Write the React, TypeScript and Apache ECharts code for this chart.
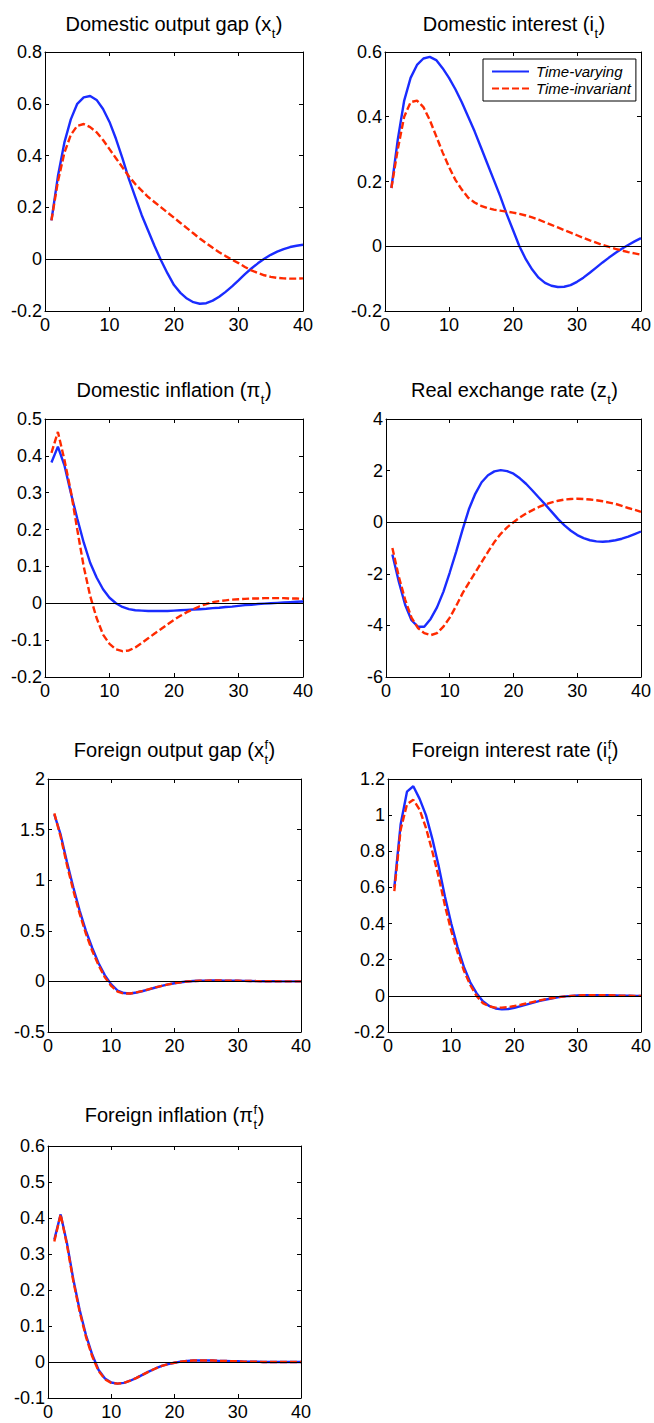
import React, { useEffect, useRef } from "react";
import * as echarts from "echarts";

const periods = [1,2,3,4,5,6,7,8,9,10,11,12,13,14,15,16,17,18,19,20,21,22,23,24,25,26,27,28,29,30,31,32,33,34,35,36,37,38,39,40];

const outputGapTV = [0.15,0.32,0.45,0.54,0.6,0.625,0.63,0.615,0.58,0.53,0.465,0.39,0.31,0.24,0.17,0.11,0.05,-0.005,-0.055,-0.1,-0.13,-0.152,-0.166,-0.172,-0.17,-0.16,-0.145,-0.126,-0.105,-0.082,-0.058,-0.036,-0.016,0.002,0.017,0.029,0.039,0.047,0.052,0.056];
const outputGapTI = [0.15,0.3,0.41,0.48,0.515,0.522,0.51,0.49,0.46,0.425,0.39,0.355,0.32,0.29,0.265,0.24,0.22,0.2,0.18,0.16,0.14,0.12,0.1,0.08,0.062,0.044,0.027,0.012,-0.002,-0.015,-0.03,-0.043,-0.053,-0.062,-0.068,-0.072,-0.074,-0.075,-0.075,-0.074];

const interestTV = [0.18,0.33,0.45,0.52,0.56,0.58,0.585,0.575,0.55,0.52,0.485,0.445,0.4,0.355,0.305,0.255,0.205,0.155,0.1,0.05,0.0,-0.04,-0.072,-0.097,-0.113,-0.122,-0.126,-0.125,-0.12,-0.11,-0.097,-0.082,-0.066,-0.05,-0.035,-0.021,-0.008,0.004,0.015,0.025];
const interestTI = [0.18,0.3,0.4,0.445,0.45,0.43,0.39,0.34,0.29,0.245,0.205,0.175,0.15,0.135,0.125,0.118,0.113,0.11,0.107,0.104,0.1,0.095,0.089,0.082,0.074,0.066,0.058,0.05,0.042,0.034,0.026,0.018,0.011,0.004,-0.002,-0.008,-0.013,-0.018,-0.022,-0.026];

const inflationTV = [0.382,0.425,0.375,0.3,0.23,0.165,0.11,0.07,0.038,0.015,0.0,-0.01,-0.016,-0.019,-0.02,-0.021,-0.021,-0.021,-0.021,-0.02,-0.019,-0.018,-0.017,-0.016,-0.015,-0.013,-0.012,-0.01,-0.009,-0.007,-0.005,-0.004,-0.002,-0.001,0.0,0.001,0.002,0.003,0.004,0.005];
const inflationTI = [0.408,0.465,0.39,0.305,0.2,0.1,0.02,-0.04,-0.085,-0.11,-0.125,-0.13,-0.128,-0.12,-0.108,-0.095,-0.082,-0.07,-0.057,-0.045,-0.034,-0.024,-0.016,-0.008,-0.002,0.003,0.006,0.008,0.01,0.011,0.012,0.013,0.013,0.014,0.014,0.014,0.014,0.013,0.013,0.012];

const exchangeTV = [-1.25,-2.3,-3.2,-3.8,-4.05,-4.05,-3.75,-3.3,-2.7,-1.95,-1.15,-0.3,0.5,1.1,1.55,1.82,1.97,2.02,1.98,1.88,1.7,1.48,1.22,0.95,0.68,0.4,0.12,-0.12,-0.33,-0.5,-0.62,-0.7,-0.745,-0.755,-0.74,-0.7,-0.64,-0.56,-0.46,-0.36];
const exchangeTI = [-1.0,-2.1,-3.0,-3.7,-4.1,-4.3,-4.38,-4.3,-4.05,-3.7,-3.25,-2.76,-2.35,-1.95,-1.55,-1.15,-0.77,-0.45,-0.2,0.0,0.18,0.34,0.47,0.59,0.69,0.77,0.83,0.88,0.9,0.91,0.9,0.88,0.85,0.81,0.76,0.71,0.63,0.55,0.48,0.4];

const foreignGapTV = [1.65,1.45,1.18,0.93,0.7,0.5,0.33,0.18,0.06,-0.03,-0.09,-0.115,-0.12,-0.11,-0.095,-0.078,-0.06,-0.045,-0.03,-0.018,-0.008,-0.001,0.004,0.007,0.008,0.009,0.009,0.008,0.007,0.006,0.005,0.004,0.003,0.002,0.001,0.001,0.0,0.0,0.0,0.0];
const foreignGapTI = [1.66,1.43,1.15,0.9,0.67,0.47,0.3,0.16,0.04,-0.045,-0.1,-0.12,-0.12,-0.108,-0.093,-0.076,-0.059,-0.044,-0.03,-0.018,-0.008,-0.001,0.004,0.007,0.008,0.009,0.009,0.008,0.007,0.006,0.005,0.004,0.003,0.002,0.001,0.001,0.0,0.0,0.0,0.0];

const foreignRateTV = [0.6,0.95,1.13,1.16,1.09,1.0,0.87,0.72,0.55,0.4,0.27,0.16,0.075,0.015,-0.03,-0.056,-0.07,-0.075,-0.073,-0.066,-0.057,-0.047,-0.037,-0.028,-0.02,-0.013,-0.007,-0.003,0.0,0.002,0.003,0.004,0.004,0.003,0.003,0.002,0.001,0.001,0.0,0.0];
const foreignRateTI = [0.58,0.92,1.06,1.085,1.03,0.93,0.8,0.66,0.5,0.36,0.24,0.14,0.06,0.0,-0.04,-0.058,-0.065,-0.065,-0.062,-0.056,-0.049,-0.041,-0.033,-0.025,-0.018,-0.012,-0.007,-0.003,0.0,0.002,0.003,0.004,0.004,0.003,0.003,0.002,0.001,0.001,0.0,0.0];

const foreignInflTV = [0.34,0.41,0.33,0.23,0.145,0.075,0.02,-0.022,-0.046,-0.057,-0.06,-0.058,-0.052,-0.044,-0.035,-0.026,-0.018,-0.011,-0.006,-0.002,0.001,0.003,0.004,0.004,0.004,0.004,0.003,0.003,0.002,0.002,0.001,0.001,0.001,0.0,0.0,0.0,0.0,0.0,0.0,0.0];
const foreignInflTI = [0.335,0.41,0.325,0.225,0.14,0.07,0.015,-0.025,-0.048,-0.058,-0.06,-0.058,-0.052,-0.044,-0.035,-0.026,-0.018,-0.011,-0.006,-0.002,0.001,0.003,0.004,0.004,0.004,0.004,0.003,0.003,0.002,0.002,0.001,0.001,0.001,0.0,0.0,0.0,0.0,0.0,0.0,0.0];

const BLUE = "#1a2cff";
const RED = "#ff2a00";
const FONT = "'Liberation Sans', Arial, Helvetica, sans-serif";

type Panel = {
  prefix: string;
  sup: string;
  tv: number[];
  ti: number[];
  yMin: number;
  yMax: number;
  yStep: number;
  box: [number, number, number, number];
  titleY: number;
};

const panels: Panel[] = [
  { prefix: "Domestic output gap (x", sup: "", tv: outputGapTV, ti: outputGapTI, yMin: -0.2, yMax: 0.8, yStep: 0.2, box: [45, 52, 258, 259], titleY: 24 },
  { prefix: "Domestic interest (i", sup: "", tv: interestTV, ti: interestTI, yMin: -0.2, yMax: 0.6, yStep: 0.2, box: [385, 52, 258, 259], titleY: 24 },
  { prefix: "Domestic inflation (\u03c0", sup: "", tv: inflationTV, ti: inflationTI, yMin: -0.2, yMax: 0.5, yStep: 0.1, box: [45, 419, 258, 258], titleY: 390 },
  { prefix: "Real exchange rate (z", sup: "", tv: exchangeTV, ti: exchangeTI, yMin: -6, yMax: 4, yStep: 2, box: [386, 419, 257, 258], titleY: 390 },
  { prefix: "Foreign output gap (x", sup: "f", tv: foreignGapTV, ti: foreignGapTI, yMin: -0.5, yMax: 2, yStep: 0.5, box: [48, 779, 253, 253], titleY: 750 },
  { prefix: "Foreign interest rate (i", sup: "f", tv: foreignRateTV, ti: foreignRateTI, yMin: -0.2, yMax: 1.2, yStep: 0.2, box: [388, 779, 254, 253], titleY: 750 },
  { prefix: "Foreign inflation (\u03c0", sup: "f", tv: foreignInflTV, ti: foreignInflTI, yMin: -0.1, yMax: 0.6, yStep: 0.1, box: [48, 1146, 253, 252], titleY: 1115 },
];

const TITLE_SIZE = 20;
const SCRIPT_SIZE = 13;
const TICK_SIZE = 18;

function measure(text: string, size: number): number {
  const c = document.createElement("canvas").getContext("2d");
  if (!c) return text.length * size * 0.5;
  c.font = `${size}px ${FONT}`;
  return c.measureText(text).width;
}

export default function App() {
  const ref = useRef<HTMLDivElement>(null);
  useEffect(() => {
    if (!ref.current) return;
    const chart = echarts.init(ref.current, undefined, { renderer: "svg" });
    const grid: any[] = [];
    const xAxis: any[] = [];
    const yAxis: any[] = [];
    const series: any[] = [];
    const graphics: any[] = [];

    panels.forEach((p, i) => {
      const [l, t, w, h] = p.box;
      grid.push({ left: l, top: t, width: w, height: h, containLabel: false });
      const common = {
        type: "value",
        gridIndex: i,
        splitLine: { show: false },
        axisLine: { show: true, onZero: false, lineStyle: { color: "#000", width: 1 } },
        axisTick: { show: true, inside: true, length: 4, lineStyle: { color: "#000", width: 1 } },
      };
      xAxis.push({
        ...common,
        position: "bottom",
        min: 0,
        max: 40,
        interval: 10,
        axisLabel: { show: true, fontSize: TICK_SIZE, color: "#000", fontFamily: FONT, margin: 5, showMinLabel: true, showMaxLabel: true },
      });
      xAxis.push({ ...common, position: "top", min: 0, max: 40, interval: 10, axisLabel: { show: false } });
      yAxis.push({
        ...common,
        position: "left",
        min: p.yMin,
        max: p.yMax,
        interval: p.yStep,
        axisLabel: { show: true, fontSize: TICK_SIZE, color: "#000", fontFamily: FONT, margin: 3 },
      });
      yAxis.push({ ...common, position: "right", min: p.yMin, max: p.yMax, interval: p.yStep, axisLabel: { show: false } });

      series.push({
        type: "line",
        name: "zero",
        xAxisIndex: 2 * i,
        yAxisIndex: 2 * i,
        data: [],
        z: 1,
        silent: true,
        markLine: {
          silent: true,
          symbol: "none",
          label: { show: false },
          lineStyle: { color: "#000", width: 1, type: "solid" },
          data: [{ yAxis: 0 }],
        },
      });
      series.push({
        type: "line",
        name: "Time-varying",
        xAxisIndex: 2 * i,
        yAxisIndex: 2 * i,
        data: periods.map((x, k) => [x, p.tv[k]]),
        showSymbol: false,
        symbol: "none",
        z: 3,
        lineStyle: { color: BLUE, width: 2.4, type: "solid" },
        itemStyle: { color: BLUE },
      });
      series.push({
        type: "line",
        name: "Time-invariant",
        xAxisIndex: 2 * i,
        yAxisIndex: 2 * i,
        data: periods.map((x, k) => [x, p.ti[k]]),
        showSymbol: false,
        symbol: "none",
        z: 4,
        lineStyle: { color: RED, width: 2.4, type: [7, 3] },
        itemStyle: { color: RED },
      });

      const wPre = measure(p.prefix, TITLE_SIZE);
      const wSub = measure("t", SCRIPT_SIZE);
      const wSup = p.sup ? measure(p.sup, SCRIPT_SIZE) : 0;
      const wScript = Math.max(wSub, wSup) + 1;
      const wSuf = measure(")", TITLE_SIZE);
      const total = wPre + wScript + wSuf;
      const cx = l + w / 2;
      const x0 = cx - total / 2;
      const ty = p.titleY;
      const font = { fontFamily: FONT, fill: "#000" };
      graphics.push({
        type: "text",
        x: x0,
        y: ty,
        style: { ...font, text: p.prefix, fontSize: TITLE_SIZE, textAlign: "left", textVerticalAlign: "middle" },
      });
      graphics.push({
        type: "text",
        x: x0 + wPre + 0.5,
        y: ty + 9,
        style: { ...font, text: "t", fontSize: SCRIPT_SIZE, textAlign: "left", textVerticalAlign: "middle" },
      });
      if (p.sup) {
        graphics.push({
          type: "text",
          x: x0 + wPre + 0.5,
          y: ty - 6,
          style: { ...font, text: p.sup, fontSize: SCRIPT_SIZE, textAlign: "left", textVerticalAlign: "middle" },
        });
      }
      graphics.push({
        type: "text",
        x: x0 + wPre + wScript,
        y: ty,
        style: { ...font, text: ")", fontSize: TITLE_SIZE, textAlign: "left", textVerticalAlign: "middle" },
      });
    });

    chart.setOption({
      animation: false,
      backgroundColor: "#fff",
      grid,
      xAxis,
      yAxis,
      series,
      graphic: graphics,
      legend: {
        show: true,
        data: ["Time-varying", "Time-invariant"],
        orient: "vertical",
        left: 483,
        top: 59,
        padding: [4, 5, 4, 8],
        itemWidth: 37,
        itemHeight: 2,
        itemGap: 0,
        borderColor: "#000",
        borderWidth: 1,
        backgroundColor: "#fff",
        selectedMode: false,
        itemStyle: { opacity: 0 },
        textStyle: { fontSize: 15, fontStyle: "italic", fontFamily: FONT, color: "#000", lineHeight: 17, padding: [0, 0, 0, 2] },
      },
    });
    return () => chart.dispose();
  }, []);
  return <div ref={ref} style={{ position: "absolute", left: 0, top: 0, width: 654, height: 1423 }} />;
}
